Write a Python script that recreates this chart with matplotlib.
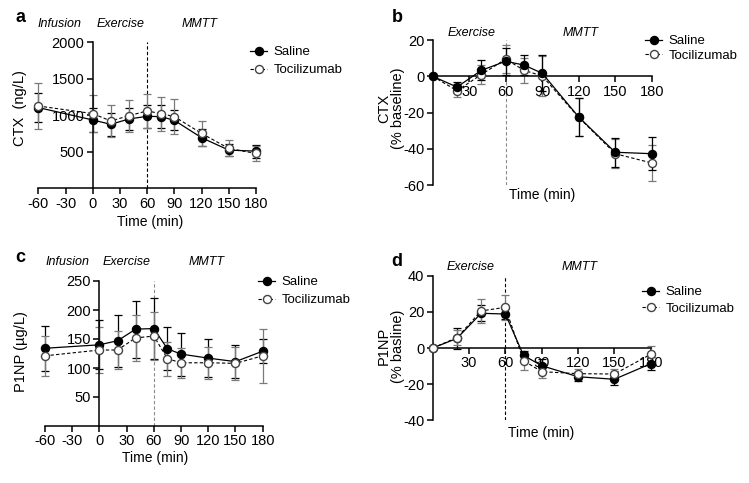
import matplotlib
matplotlib.use('Agg')
import matplotlib.pyplot as plt

plt.rcParams['font.family'] = ['Liberation Sans', 'DejaVu Sans']
plt.rcParams['axes.unicode_minus'] = False

W, H = 749, 483

# time points
t_abs = [-60, 0, 20, 40, 60, 75, 90, 120, 150, 180]
t_rel = [0, 20, 40, 60, 75, 90, 120, 150, 180]

# panel a - CTX (ng/L)
ctx_sal = [1106, 936, 876, 950, 986, 982, 931, 693, 523, 509]
ctx_sal_err = [200, 165, 156, 145, 160, 160, 135, 115, 80, 90]
ctx_toc = [1128, 1023, 922, 995, 1060, 1023, 982, 752, 546, 477]
ctx_toc_err = [320, 250, 215, 220, 230, 234, 240, 175, 110, 105]

# panel b - CTX (% baseline)
ctxp_sal = [0, -5.9, 3.3, 8.3, 6.2, 1.7, -22.4, -41.8, -42.6]
ctxp_sal_err = [0, 3, 5.5, 7.5, 5.5, 10, 10.5, 8, 9]
ctxp_toc = [0, -7.9, 1.0, 9.5, 3.3, 0.2, -22.6, -42.6, -47.7]
ctxp_toc_err = [0, 3.5, 5, 7.5, 7, 11, 10.5, 8, 10]

# panel c - P1NP (ug/L)
p1np_sal = [134, 140, 147, 167, 168, 133, 124, 117, 111, 129]
p1np_sal_err = [39, 42, 45, 49, 53, 37, 37, 33, 28, 21]
p1np_toc = [121, 131, 131, 152, 155, 116, 109, 109, 108, 121]
p1np_toc_err = [35, 40, 33, 40, 41, 29, 26, 28, 29, 46]

# panel d - P1NP (% baseline)
p1npp_sal = [0, 5.3, 19.2, 18.8, -4.1, -9.8, -15.9, -17.3, -8.7]
p1npp_sal_err = [0, 6, 4.5, 3, 2.5, 3.5, 2.5, 3, 3.5]
p1npp_toc = [0, 5.7, 20.5, 22.5, -7.0, -13.1, -14.2, -14.4, -3.5]
p1npp_toc_err = [0, 4, 6.5, 6.8, 5, 3.5, 2.5, 3, 4.5]


def px_rect(x0, x1, ytop, ybot):
    return [x0 / W, 1 - ybot / H, (x1 - x0) / W, (ybot - ytop) / H]


def draw_series(ax, t, y, err, filled, ecolor):
    eb = ax.errorbar(t, y, yerr=err, fmt='none', ecolor=ecolor, elinewidth=0.9,
                     capsize=3, capthick=0.9, zorder=2)
    for art in eb.lines[1] + eb.lines[2]:
        art.set_clip_on(False)
    if filled:
        ln, = ax.plot(t, y, '-o', color='black', lw=0.9, ms=5.8, mfc='black',
                      mec='black', clip_on=False, zorder=3)
    else:
        ln, = ax.plot(t, y, '--o', color='black', lw=0.8, ms=5.8, mfc='white',
                      mec='#444444', mew=1.0, dashes=(3, 2), clip_on=False, zorder=3)
    return ln


def panel(rect, t, sal, sal_err, toc, toc_err, xlim, ylim, xticks, yticks,
          zero_x, zero_y, vcolor, sal_on_top=False):
    ax = fig.add_axes(rect)
    ax.set_xlim(*xlim)
    ax.set_ylim(*ylim)
    for s in ['top', 'right']:
        ax.spines[s].set_visible(False)
    ax.spines['left'].set_linewidth(1.1)
    ax.spines['bottom'].set_linewidth(1.1)
    if zero_x:
        ax.spines['left'].set_position(('data', 0))
    if zero_y:
        ax.spines['bottom'].set_position(('data', 0))
    ax.set_xticks(xticks)
    ax.set_yticks(yticks)
    ax.tick_params(direction='out', length=4, width=1.1, labelsize=10.5, pad=2)
    ax.axvline(60, color=vcolor, lw=0.8, ls=(0, (3, 2)), zorder=1)
    if sal_on_top:
        h_toc = draw_series(ax, t, toc, toc_err, False, '#7a7a7a')
        h_sal = draw_series(ax, t, sal, sal_err, True, 'black')
    else:
        h_sal = draw_series(ax, t, sal, sal_err, True, 'black')
        h_toc = draw_series(ax, t, toc, toc_err, False, '#7a7a7a')
    return ax, h_sal, h_toc


def legend(handles, x, ytop, spacing):
    fig.legend(handles, ['Saline', 'Tocilizumab'], loc='upper left',
               bbox_to_anchor=(x / W, 1 - ytop / H), frameon=False, borderpad=0,
               borderaxespad=0, handlelength=1.3, handletextpad=0.5,
               labelspacing=spacing, fontsize=9.5)


def ftext(x, y, s, **kw):
    fig.text(x / W, 1 - y / H, s, ha='center', va='center', **kw)


fig = plt.figure(figsize=(W / 100, H / 100), dpi=100)

# a
ax, hs, ht = panel(px_rect(38.3, 256, 42.3, 188.3), t_abs, ctx_sal, ctx_sal_err,
                   ctx_toc, ctx_toc_err, (-60, 180), (0, 2000),
                   range(-60, 181, 30), [500, 1000, 1500, 2000], True, False, 'black')
legend([hs, ht], 250, 46, 0.45)
ftext(20, 108, 'CTX  (ng/L)', rotation=90, fontsize=10.5)
ftext(150, 222, 'Time (min)', fontsize=10)

# b
ax, hs, ht = panel(px_rect(432.7, 651.7, 40, 185.3), t_rel, ctxp_sal, ctxp_sal_err,
                   ctxp_toc, ctxp_toc_err, (0, 180), (-60, 20),
                   range(30, 181, 30), [-60, -40, -20, 0, 20], False, True, '#8a8a8a',
                   sal_on_top=True)
legend([hs, ht], 645, 35, 0.2)
ftext(391, 108, 'CTX\n(% baseline)', rotation=90, fontsize=10.5, linespacing=1.0)
ftext(542, 195, 'Time (min)', fontsize=10)

# c
ax, hs, ht = panel(px_rect(45, 262.7, 281, 426), t_abs, p1np_sal, p1np_sal_err,
                   p1np_toc, p1np_toc_err, (-60, 180), (0, 250),
                   range(-60, 181, 30), [50, 100, 150, 200, 250], True, False, '#8a8a8a')
legend([hs, ht], 258, 276, 0.45)
ftext(21, 352, 'P1NP (µg/L)', rotation=90, fontsize=10.5)
ftext(155, 458, 'Time (min)', fontsize=10)

# d
ax, hs, ht = panel(px_rect(432.7, 650.7, 275.7, 420.3), t_rel, p1npp_sal, p1npp_sal_err,
                   p1npp_toc, p1npp_toc_err, (0, 180), (-40, 40),
                   range(30, 181, 30), [-40, -20, 0, 20, 40], False, True, 'black')
legend([hs, ht], 642, 286, 0.35)
ftext(391, 346, 'P1NP\n(% basline)', rotation=90, fontsize=10.5, linespacing=1.0)
ftext(541, 433, 'Time (min)', fontsize=10)

# phase labels
for x, y, s in [(60, 24, 'Infusion'), (121, 24, 'Exercise'), (200, 24, 'MMTT'),
                (67, 262, 'Infusion'), (127, 262, 'Exercise'), (207, 262, 'MMTT'),
                (472, 33, 'Exercise'), (581, 33, 'MMTT'),
                (471, 267, 'Exercise'), (580, 267, 'MMTT')]:
    ftext(x, y, s, style='italic', fontsize=9)

# panel letters
for x, y, s in [(20, 18, 'a'), (397, 18, 'b'), (20, 258, 'c'), (397, 262, 'd')]:
    ftext(x, y, s, fontsize=13, fontweight='bold')

fig.savefig('out.png', dpi=100)
